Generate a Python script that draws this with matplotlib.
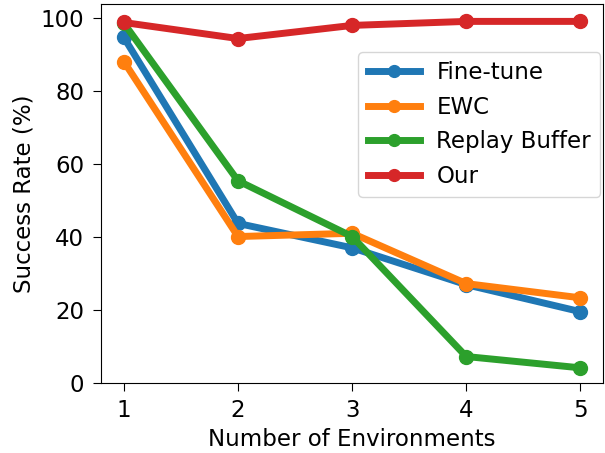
import matplotlib
matplotlib.use("Agg")
import matplotlib.pyplot as plt

envs = [1, 2, 3, 4, 5]
fine_tune = [94.7, 43.7, 37.0, 26.9, 19.5]
ewc = [88.1, 40.1, 41.0, 27.2, 23.3]
replay = [98.6, 55.4, 40.1, 7.2, 4.1]
ours = [98.8, 94.4, 98.0, 99.1, 99.1]

plt.rcParams['font.size'] = 16.5
plt.rcParams['xtick.major.size'] = 6
plt.rcParams['ytick.major.size'] = 6
plt.rcParams['xtick.major.pad'] = 6
plt.rcParams['ytick.major.pad'] = 6

fig, ax = plt.subplots(figsize=(6.05, 4.53), dpi=100)
ax.plot(envs, fine_tune, marker='o', lw=5, ms=10, label='Fine-tune')
ax.plot(envs, ewc, marker='o', lw=5, ms=10, label='EWC')
ax.plot(envs, replay, marker='o', lw=5, ms=10, label='Replay Buffer')
ax.plot(envs, ours, marker='o', lw=5, ms=10, label='Our')
ax.set_ylim(bottom=0)
ax.set_xticks(envs)
ax.set_xlabel('Number of Environments')
ax.set_ylabel('Success Rate (%)')
ax.legend(loc='upper right', bbox_to_anchor=(0.994, 0.873), borderaxespad=0,
          handlelength=2.3, handletextpad=0.7, markerscale=0.85)
fig.subplots_adjust(left=0.167, right=0.997, top=0.991, bottom=0.155)
fig.savefig('out.png')
